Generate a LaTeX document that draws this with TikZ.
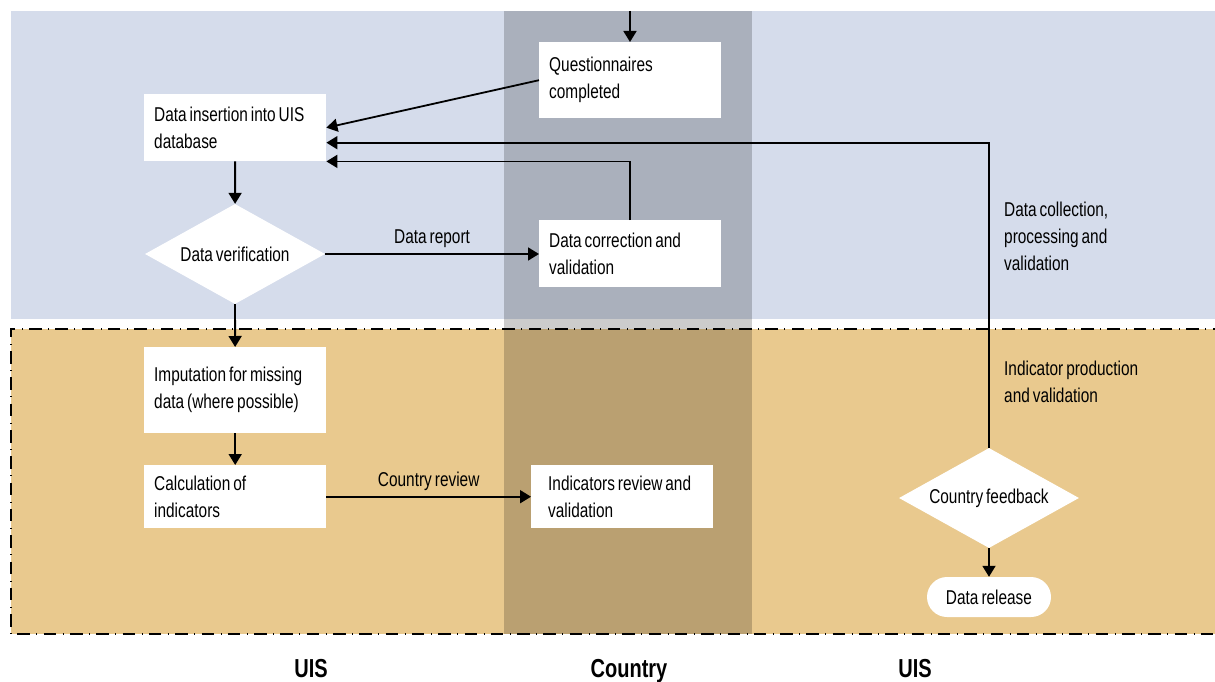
\documentclass[tikz,border=0pt]{standalone}
\usepackage{fontspec}
\setmainfont[FakeStretch=0.77, WordSpace=0.7]{Liberation Sans}
\usepackage{tikz}
\usetikzlibrary{shapes,positioning,arrows.meta,calc}

\definecolor{collectband}{RGB}{213,220,235}
\definecolor{produceband}{RGB}{233,201,142}

\begin{document}
\begin{tikzpicture} [x=1pt, y=-1pt,
      font=\fontsize{20}{27}\selectfont,
      box/.style={fill=white, align=flush left, anchor=north west,
        inner xsep=10pt, text width=162pt},
      decision/.style={diamond, aspect=1.8, fill=white, inner sep=0pt,
        minimum width=180pt, minimum height=100pt},
      arr/.style={-{Triangle[length=11pt, width=13pt]}, line width=1.8pt},
      lane/.style={anchor=base, font=\fontsize{26}{30}\selectfont\bfseries},
      sidelabel/.style={anchor=north west, align=left, inner sep=0pt}]

      \useasboundingbox (0,0) rectangle (1215,682);

      % bands and the country column
      \fill[collectband] (11,11) rectangle (1215,319);
      \fill[produceband] (11,329) rectangle (1215,634);
      \draw[line width=1.8pt, dash pattern=on 12.5pt off 6.5pt on 0.8pt off 6.5pt]
      (1225,329) -- (11,329) -- (11,634) -- (1225,634);
      \fill[black, opacity=0.2] (504,11) rectangle (752,634);

      \node[box, minimum height=67pt] (insert) at (144,94) {Data insertion into UIS\\database};
      \node[box, minimum height=76pt] (quest) at (539,42) {Questionnaires\\completed};
      \node[decision] (verif) at (235,254) {Data verification};
      \node[box, minimum height=67pt] (correct) at (539,220) {Data correction and\\validation};
      \node[box, minimum height=86pt] (impute) at (144,347) {Imputation for missing\\data (where possible)};
      \node[box, minimum height=63pt] (calc) at (144,465) {Calculation of\\indicators};
      \node[box, minimum height=63pt, inner xsep=17pt, text width=148pt] (review)
      at (531,465) {Indicators review and\\validation};
      \node[decision] (feedback) at (989,498) {Country feedback};
      \node[fill=white, rounded corners=20pt, minimum width=124pt, minimum height=40pt]
      (release) at (989,597) {Data release};

      \node[sidelabel] (collectlbl) at (1004,202) {Data collection,\\processing and\\validation};
      \node[sidelabel] (producelbl) at (1004,361) {Indicator production\\and validation};

      \node[lane] (uisleft) at (311,677) {UIS};
      \node[lane] (country) at (629,677) {Country};
      \node[lane] (uisright) at (915,677) {UIS};

      % connectors
      \coordinate (entry) at (630,11);
      \draw[arr] (entry) -- (entry |- quest.north);
      \draw[arr] (quest.west) -- (insert.east);
      \draw[arr] (feedback.north) |- ([yshift=-15pt]insert.east);
      \draw[arr] (correct.north) |- (insert.south east);
      \draw[arr] (insert) -- (verif);
      \draw[arr] (verif.east) -- node[above=2pt] {Data report} (verif.east -| correct.west);
      \draw[arr] (verif) -- (impute);
      \draw[arr] (impute) -- (calc);
      \draw[arr] (calc.east) -- node[above=2pt] {Country review} (calc.east -| review.west);
      \draw[arr] (feedback) -- (release);
    \end{tikzpicture}
\end{document}
